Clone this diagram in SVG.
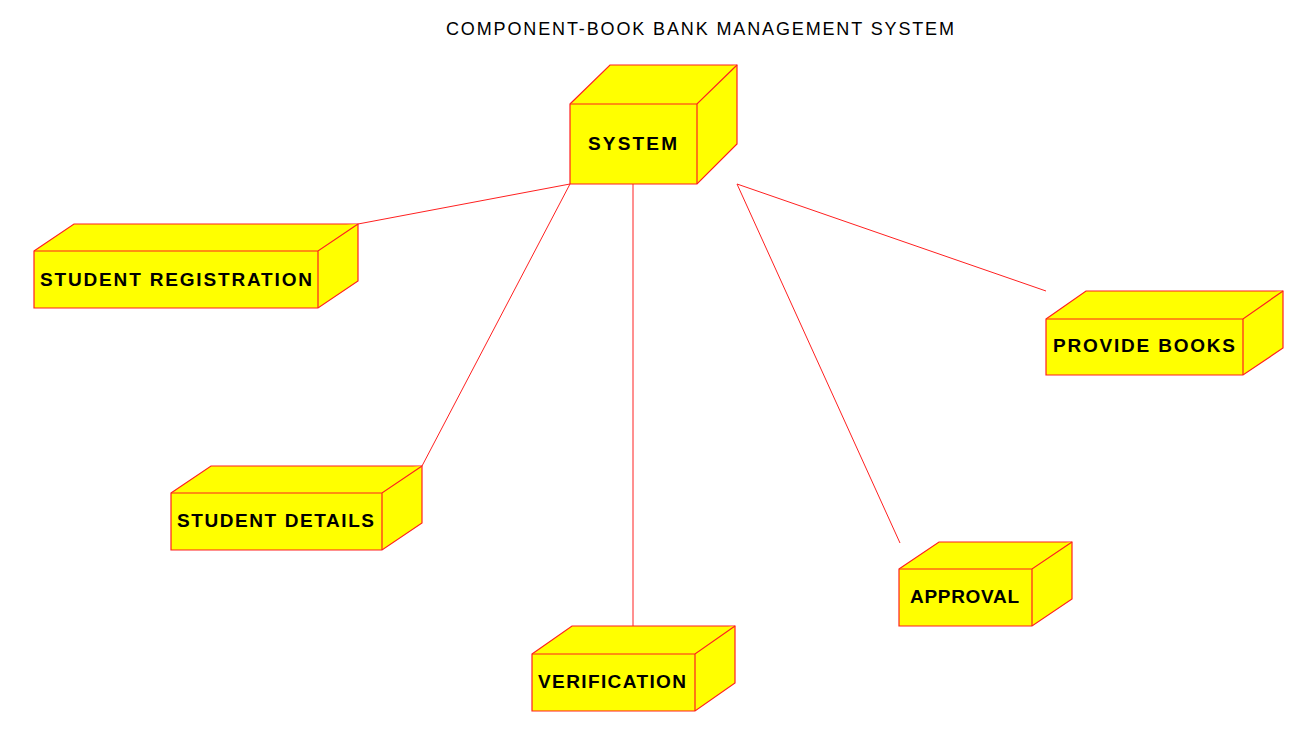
<svg xmlns="http://www.w3.org/2000/svg" width="1306" height="735" viewBox="0 0 1306 735">
<style>
.box{fill:#FFFF00;stroke:#FF2020;stroke-width:1.2;stroke-linejoin:miter}
.lbl{font-family:"Liberation Sans",Arial,sans-serif;font-weight:bold;font-size:19px;fill:#000}
.title{font-family:"Liberation Sans",Arial,sans-serif;font-size:18px;fill:#000}
.conn{stroke:#FF2020;stroke-width:1;fill:none}
</style>
<rect width="1306" height="735" fill="#fff"/>
<text class="title" x="446" y="35" textLength="508" lengthAdjust="spacing">COMPONENT-BOOK BANK MANAGEMENT SYSTEM</text>
<g id="connectors">
<line class="conn" x1="570" y1="184" x2="358" y2="224"/>
<line class="conn" x1="570" y1="184" x2="422" y2="466"/>
<line class="conn" x1="633" y1="184" x2="633" y2="626"/>
<line class="conn" x1="737" y1="184" x2="900" y2="543"/>
<line class="conn" x1="737" y1="184" x2="1046" y2="291"/>
</g>
<g id="system">
<path class="box" d="M570,104 L610,65 L737,65 L737,144 L697,184 L570,184 Z"/>
<path class="box" d="M570,104 L697,104 L737,65 M697,104 L697,184" fill="none"/>
<text class="lbl" x="588" y="150" textLength="89" lengthAdjust="spacing">SYSTEM</text>
</g>
<g id="student-registration">
<path class="box" d="M34,251 L74,224 L358,224 L358,281 L318,308 L34,308 Z"/>
<path class="box" d="M34,251 L318,251 L358,224 M318,251 L318,308" fill="none"/>
<text class="lbl" x="40" y="286" textLength="272" lengthAdjust="spacing">STUDENT REGISTRATION</text>
</g>
<g id="student-details">
<path class="box" d="M171,493 L211,466 L422,466 L422,523 L382,550 L171,550 Z"/>
<path class="box" d="M171,493 L382,493 L422,466 M382,493 L382,550" fill="none"/>
<text class="lbl" x="177" y="527" textLength="197" lengthAdjust="spacing">STUDENT DETAILS</text>
</g>
<g id="verification">
<path class="box" d="M532,654 L572,626 L735,626 L735,683 L695,711 L532,711 Z"/>
<path class="box" d="M532,654 L695,654 L735,626 M695,654 L695,711" fill="none"/>
<text class="lbl" x="538" y="688" textLength="148" lengthAdjust="spacing">VERIFICATION</text>
</g>
<g id="approval">
<path class="box" d="M899,569 L939,542 L1072,542 L1072,599 L1032,626 L899,626 Z"/>
<path class="box" d="M899,569 L1032,569 L1072,542 M1032,569 L1032,626" fill="none"/>
<text class="lbl" x="910" y="603" textLength="109" lengthAdjust="spacing">APPROVAL</text>
</g>
<g id="provide-books">
<path class="box" d="M1046,319 L1086,291 L1283,291 L1283,348 L1243,375 L1046,375 Z"/>
<path class="box" d="M1046,319 L1243,319 L1283,291 M1243,319 L1243,375" fill="none"/>
<text class="lbl" x="1053" y="352" textLength="182" lengthAdjust="spacing">PROVIDE BOOKS</text>
</g>
</svg>
